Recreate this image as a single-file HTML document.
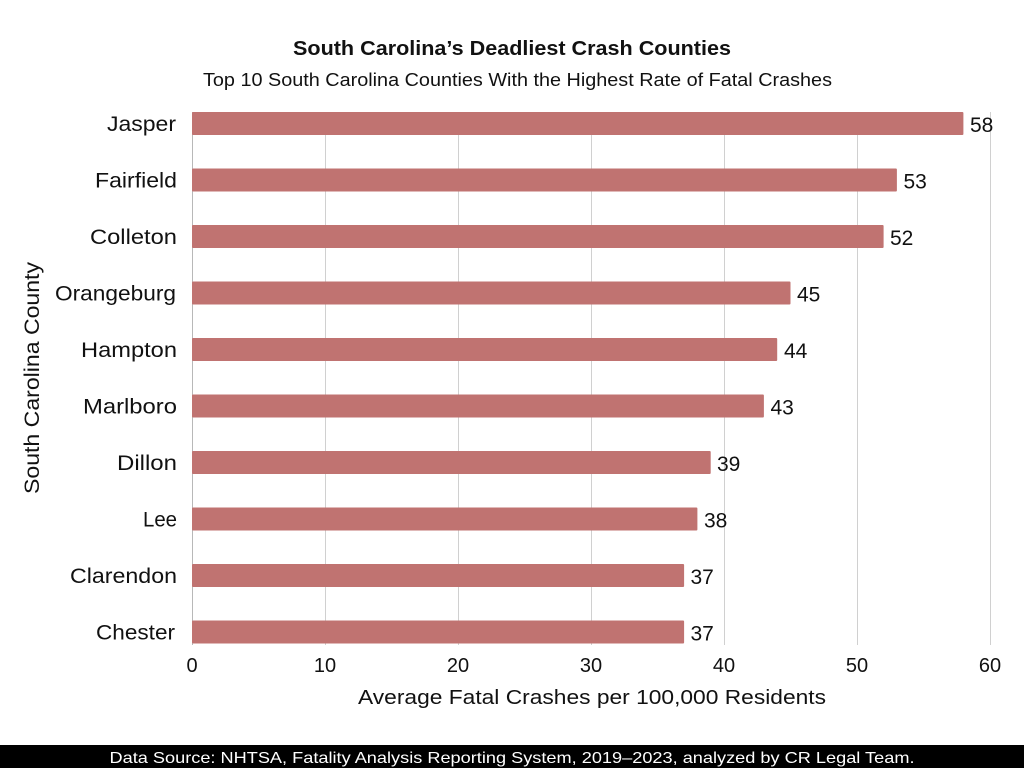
<!DOCTYPE html>
<html>
<head>
<meta charset="utf-8">
<style>
html,body{margin:0;padding:0;background:#fff;}
svg{display:block;}
text{font-family:"Liberation Sans",sans-serif;fill:#111;}
</style>
</head>
<body>
<svg width="1024" height="768" viewBox="0 0 1024 768" xmlns="http://www.w3.org/2000/svg">
<rect x="0" y="0" width="1024" height="768" fill="#fff"/>
<!-- title -->
<text x="512" y="55" text-anchor="middle" font-size="20" font-weight="bold" textLength="438" lengthAdjust="spacingAndGlyphs">South Carolina’s Deadliest Crash Counties</text>
<text x="517.5" y="86" text-anchor="middle" font-size="18" textLength="629" lengthAdjust="spacingAndGlyphs">Top 10 South Carolina Counties With the Highest Rate of Fatal Crashes</text>
<!-- gridlines -->
<g stroke="#d0d0d0" stroke-width="1">
<line x1="325.5" y1="112" x2="325.5" y2="645"/>
<line x1="458.5" y1="112" x2="458.5" y2="645"/>
<line x1="591.5" y1="112" x2="591.5" y2="645"/>
<line x1="724.5" y1="112" x2="724.5" y2="645"/>
<line x1="857.5" y1="112" x2="857.5" y2="645"/>
<line x1="990.5" y1="112" x2="990.5" y2="645"/>
</g>
<line x1="192.5" y1="112" x2="192.5" y2="645" stroke="#b8b8b8" stroke-width="1"/>
<!-- bars -->
<g fill="#c07371">
<rect x="192" y="112" width="771.4" height="23" rx="1"/>
<rect x="192" y="168.5" width="704.9" height="23" rx="1"/>
<rect x="192" y="225" width="691.6" height="23" rx="1"/>
<rect x="192" y="281.5" width="598.5" height="23" rx="1"/>
<rect x="192" y="338" width="585.2" height="23" rx="1"/>
<rect x="192" y="394.5" width="571.9" height="23" rx="1"/>
<rect x="192" y="451" width="518.7" height="23" rx="1"/>
<rect x="192" y="507.5" width="505.4" height="23" rx="1"/>
<rect x="192" y="564" width="492.1" height="23" rx="1"/>
<rect x="192" y="620.5" width="492.1" height="23" rx="1"/>
</g>
<!-- category labels -->
<g font-size="21" text-anchor="end">
<text x="176" y="131" textLength="69" lengthAdjust="spacingAndGlyphs">Jasper</text>
<text x="177" y="187.5" textLength="82" lengthAdjust="spacingAndGlyphs">Fairfield</text>
<text x="177" y="244" textLength="87" lengthAdjust="spacingAndGlyphs">Colleton</text>
<text x="176" y="300.5" textLength="121" lengthAdjust="spacingAndGlyphs">Orangeburg</text>
<text x="177" y="357" textLength="96" lengthAdjust="spacingAndGlyphs">Hampton</text>
<text x="177" y="413.5" textLength="94" lengthAdjust="spacingAndGlyphs">Marlboro</text>
<text x="177" y="470" textLength="60" lengthAdjust="spacingAndGlyphs">Dillon</text>
<text x="177" y="526.5" textLength="34" lengthAdjust="spacingAndGlyphs">Lee</text>
<text x="177" y="583" textLength="107" lengthAdjust="spacingAndGlyphs">Clarendon</text>
<text x="175" y="639.5" textLength="79" lengthAdjust="spacingAndGlyphs">Chester</text>
</g>
<!-- value labels -->
<g font-size="21">
<text x="970" y="132">58</text>
<text x="903.5" y="188.5">53</text>
<text x="890" y="245">52</text>
<text x="797" y="301.5">45</text>
<text x="784" y="358">44</text>
<text x="770.5" y="414.5">43</text>
<text x="717" y="471">39</text>
<text x="704" y="527.5">38</text>
<text x="690.5" y="584">37</text>
<text x="690.5" y="640.5">37</text>
</g>
<!-- tick labels -->
<g font-size="20" text-anchor="middle">
<text x="192" y="672">0</text>
<text x="325" y="672">10</text>
<text x="458" y="672">20</text>
<text x="591" y="672">30</text>
<text x="724" y="672">40</text>
<text x="857" y="672">50</text>
<text x="990" y="672">60</text>
</g>
<!-- axis titles -->
<text x="592" y="704" text-anchor="middle" font-size="20" textLength="468" lengthAdjust="spacingAndGlyphs">Average Fatal Crashes per 100,000 Residents</text>
<text transform="translate(39,378) rotate(-90)" text-anchor="middle" font-size="21" textLength="232" lengthAdjust="spacingAndGlyphs">South Carolina County</text>
<!-- footer -->
<rect x="0" y="745" width="1024" height="23" fill="#000"/>
<text x="512" y="763" text-anchor="middle" font-size="16" style="fill:#fff" textLength="805" lengthAdjust="spacingAndGlyphs">Data Source: NHTSA, Fatality Analysis Reporting System, 2019–2023, analyzed by CR Legal Team.</text>
</svg>
</body>
</html>
